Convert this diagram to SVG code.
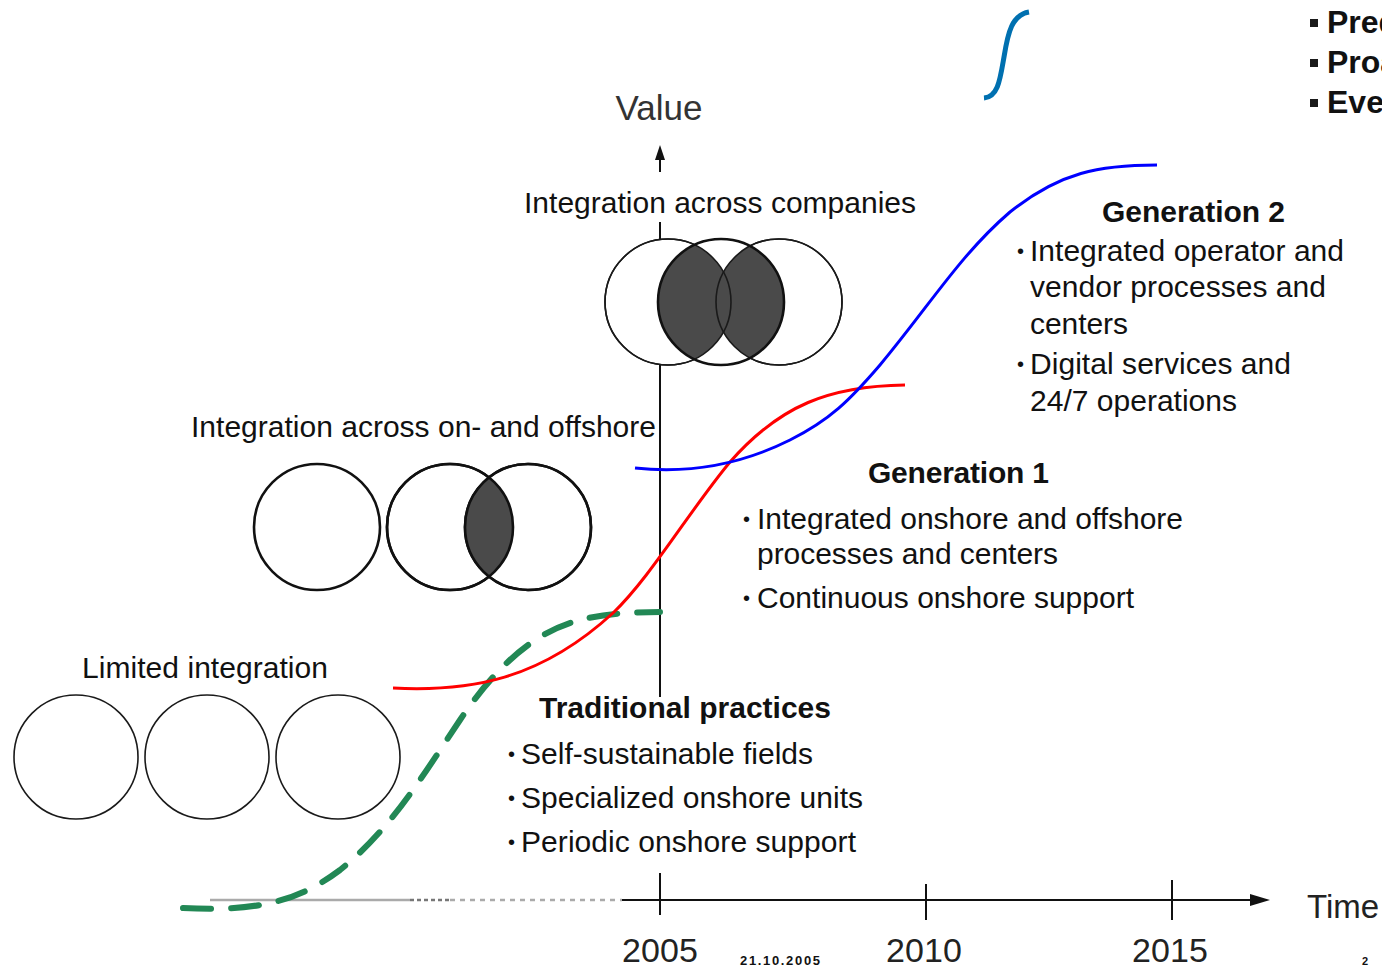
<svg xmlns="http://www.w3.org/2000/svg" width="1382" height="970" viewBox="0 0 1382 970">
<style>
.t{font-family:"Liberation Sans",Arial,sans-serif;font-size:30px;fill:#111}
.b{font-family:"Liberation Sans",Arial,sans-serif;font-size:30px;font-weight:bold;fill:#111}
.bul{font-family:"Liberation Sans",Arial,sans-serif;font-size:20px;fill:#111}
.thin{fill:#fff;stroke:#1a1a1a;stroke-width:1.6}
.thick{fill:#fff;stroke:#111;stroke-width:2.6}
.ax{stroke:#111;stroke-width:2;fill:none}
</style>
<defs>
<clipPath id="cMid"><circle cx="721" cy="302" r="63"/></clipPath>
<clipPath id="cMid2"><circle cx="450" cy="527" r="63"/></clipPath>
</defs>
<rect width="1382" height="970" fill="#fff"/>

<g id="top-right">
<path d="M984,98 C998,97 1000,80 1004,57 C1008,32 1012,15 1029,12" fill="none" stroke="#0070b0" stroke-width="5"/>
<rect x="1310" y="19" width="8" height="8" fill="#1a1a1a"/>
<rect x="1310" y="59" width="8" height="8" fill="#1a1a1a"/>
<rect x="1310" y="99" width="8" height="8" fill="#1a1a1a"/>
<text x="1327" y="33" class="b" style="font-size:32px">Pred</text>
<text x="1327" y="73" class="b" style="font-size:32px">Proa</text>
<text x="1327" y="113" class="b" style="font-size:32px">Eve</text>
</g>

<g id="axes">
<line x1="660" y1="158" x2="660" y2="172" class="ax"/>
<path d="M660,145 L665,160 L655,160 Z" fill="#111"/>
<line x1="660" y1="222" x2="660" y2="697" class="ax"/>
<line x1="210" y1="900" x2="410" y2="900" stroke="#aaa" stroke-width="2.5"/>
<line x1="410" y1="900" x2="450" y2="900" stroke="#777" stroke-width="2.5" stroke-dasharray="4 3"/>
<line x1="450" y1="900" x2="622" y2="900" stroke="#aaa" stroke-width="2.5" stroke-dasharray="5 5"/>
<line x1="622" y1="900" x2="1252" y2="900" class="ax"/>
<path d="M1270,900 L1250,894 L1250,906 Z" fill="#111"/>
<line x1="660" y1="873" x2="660" y2="915" class="ax"/>
<line x1="926" y1="884" x2="926" y2="920" class="ax"/>
<line x1="1172" y1="880" x2="1172" y2="920" class="ax"/>
<text x="659" y="120" class="t" style="font-size:35px;fill:#333" text-anchor="middle">Value</text>
<text x="1307" y="918" class="t" style="font-size:33px;fill:#222">Time</text>
<text x="660" y="962" class="t" style="font-size:34px;fill:#222" text-anchor="middle" textLength="76">2005</text>
<text x="924" y="962" class="t" style="font-size:34px;fill:#222" text-anchor="middle" textLength="76">2010</text>
<text x="1170" y="962" class="t" style="font-size:34px;fill:#222" text-anchor="middle" textLength="76">2015</text>
<text x="740" y="965" class="b" style="font-size:13px" textLength="80">21.10.2005</text>
<text x="1362" y="965" class="b" style="font-size:11px">2</text>
</g>

<g id="companies">
<text x="524" y="213" class="t" textLength="392">Integration across companies</text>
<circle cx="668" cy="302" r="63" class="thin"/>
<circle cx="779" cy="302" r="63" class="thin"/>
<circle cx="721" cy="302" r="63" fill="#fff"/>
<g clip-path="url(#cMid)">
<circle cx="668" cy="302" r="63" fill="#4a4a4a"/>
<circle cx="779" cy="302" r="63" fill="#4a4a4a"/>
</g>
<circle cx="668" cy="302" r="63" fill="none" stroke="#1a1a1a" stroke-width="1.6"/>
<circle cx="779" cy="302" r="63" fill="none" stroke="#1a1a1a" stroke-width="1.6"/>
<circle cx="721" cy="302" r="63" fill="none" stroke="#111" stroke-width="2.6"/>
</g>

<g id="onoffshore">
<text x="191" y="437" class="t" textLength="465">Integration across on- and offshore</text>
<circle cx="317" cy="527" r="63" class="thick"/>
<circle cx="450" cy="527" r="63" class="thick"/>
<circle cx="528" cy="527" r="63" class="thick"/>
<circle cx="528" cy="527" r="63" fill="#4a4a4a" clip-path="url(#cMid2)"/>
<circle cx="450" cy="527" r="63" fill="none" stroke="#111" stroke-width="2.6"/>
<circle cx="528" cy="527" r="63" fill="none" stroke="#111" stroke-width="2.6"/>
</g>

<g id="limited">
<text x="82" y="678" class="t" textLength="246">Limited integration</text>
<circle cx="76" cy="757" r="62" class="thin"/>
<circle cx="207" cy="757" r="62" class="thin"/>
<circle cx="338" cy="757" r="62" class="thin"/>
</g>

<g id="connectors">
<path d="M183,908 C260,912 300,900 340,870 C390,830 420,780 460,720 C500,660 540,630 580,620 C600,615 620,612 660,612" fill="none" stroke="#228855" stroke-width="6" stroke-dasharray="28 20" stroke-linecap="round"/>
<path d="M393,688 C470,692 540,680 613,613 C650,578 690,510 730,462 C780,405 830,386 905,385" fill="none" stroke="#ff0000" stroke-width="3"/>
<path d="M635,468 C690,474 740,465 790,440 C830,420 850,400 880,365 C930,305 960,255 1010,212 C1060,172 1100,165 1157,165" fill="none" stroke="#0000ff" stroke-width="3"/>
</g>

<g id="generation2">
<text x="1102" y="222" class="b" textLength="183">Generation 2</text>
<text x="1017" y="258" class="bul">•</text>
<text x="1030" y="261" class="t" textLength="314">Integrated operator and</text>
<text x="1030" y="297" class="t" textLength="296">vendor processes and</text>
<text x="1030" y="334" class="t" textLength="98">centers</text>
<text x="1017" y="371" class="bul">•</text>
<text x="1030" y="374" class="t" textLength="261">Digital services and</text>
<text x="1030" y="411" class="t" textLength="207">24/7 operations</text>
</g>

<g id="generation1">
<text x="868" y="483" class="b" textLength="181">Generation 1</text>
<text x="743" y="526" class="bul">•</text>
<text x="757" y="529" class="t" textLength="426">Integrated onshore and offshore</text>
<text x="757" y="564" class="t" textLength="301">processes and centers</text>
<text x="743" y="605" class="bul">•</text>
<text x="757" y="608" class="t" textLength="377">Continuous onshore support</text>
</g>

<g id="traditional">
<text x="539" y="718" class="b" textLength="292">Traditional practices</text>
<text x="508" y="761" class="bul">•</text>
<text x="521" y="764" class="t" textLength="292">Self-sustainable fields</text>
<text x="508" y="805" class="bul">•</text>
<text x="521" y="808" class="t" textLength="342">Specialized onshore units</text>
<text x="508" y="849" class="bul">•</text>
<text x="521" y="852" class="t" textLength="335">Periodic onshore support</text>
</g>
</svg>
